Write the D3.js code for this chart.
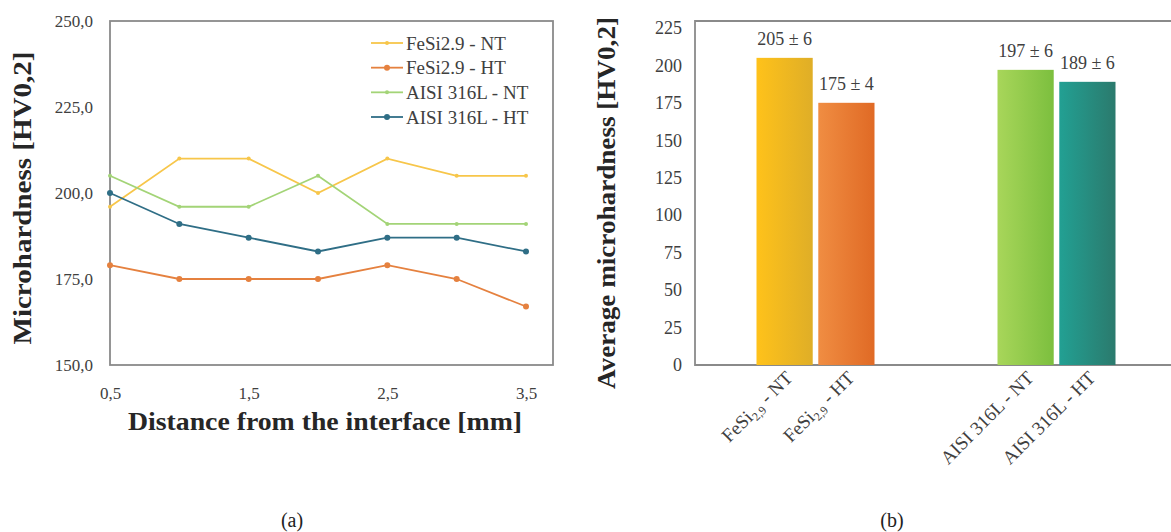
<!DOCTYPE html>
<html>
<head>
<meta charset="utf-8">
<script src="https://cdn.jsdelivr.net/npm/d3@7"></script>
<style>
  html, body { margin: 0; padding: 0; background: #fff; }
  svg text { font-family: "Liberation Serif", "Times New Roman", serif; }
</style>
</head>
<body>
<svg id="fig" width="1171" height="532"></svg>
<script>
// ---- (a) microhardness profiles ----
const distances = [0.5, 1.0, 1.5, 2.0, 2.5, 3.0, 3.5];
const fesiNT = [196, 210, 210, 200, 210, 205, 205];
const fesiHT = [179, 175, 175, 175, 179, 175, 167];
const aisiNT = [205, 196, 196, 205, 191, 191, 191];
const aisiHT = [200, 191, 187, 183, 187, 187, 183];
const seriesNames = ["FeSi2.9 - NT", "FeSi2.9 - HT", "AISI 316L - NT", "AISI 316L - HT"];
const profileTicksY = [150, 175, 200, 225, 250];
const profileTicksX = [0.5, 1.5, 2.5, 3.5];

// ---- (b) average microhardness ----
const groups = ["FeSi", "AISI"];
const barNames = ["FeSi2,9 - NT", "FeSi2,9 - HT", "AISI 316L - NT", "AISI 316L - HT"];
const barGroup = ["FeSi", "FeSi", "AISI", "AISI"];
const barKey = ["NT", "HT", "NT", "HT"];
const barValues = [205, 175, 197, 189];
const barErrors = [6, 4, 6, 6];
const avgTicks = [0, 25, 50, 75, 100, 125, 150, 175, 200, 225];

const svg = d3.select("#fig");
const lineColors = ["#f7c64a", "#e5813f", "#a3d477", "#2f6e86"];
const textColor = "#404040";
const titleColor = "#262626";
const frameColor = "#8a8a8a";
const comma = v => d3.format(".1f")(v).replace(".", ",");

// ================= panel (a) =================
const A = { left: 110, right: 553, top: 21, bottom: 365 };
const xA = d3.scaleLinear().domain([0.5, 3.5]).range([A.left, 526]);
const yA = d3.scaleLinear().domain([150, 250]).range([A.bottom, A.top]);

const gA = svg.append("g");
gA.append("rect")
  .attr("x", A.left).attr("y", A.top)
  .attr("width", A.right - A.left).attr("height", A.bottom - A.top)
  .attr("fill", "none").attr("stroke", frameColor).attr("stroke-width", 1.8);

const yAxisA = d3.axisLeft(yA).tickValues(profileTicksY).tickFormat(comma).tickSize(0).tickPadding(17);
gA.append("g").attr("transform", `translate(${A.left},0)`).call(yAxisA)
  .call(g => g.select(".domain").remove())
  .selectAll("text").attr("font-size", 17).attr("fill", textColor);

const xAxisA = d3.axisBottom(xA).tickValues(profileTicksX).tickFormat(comma).tickSize(0).tickPadding(22);
gA.append("g").attr("transform", `translate(0,${A.bottom})`).call(xAxisA)
  .call(g => g.select(".domain").remove())
  .selectAll("text").attr("font-size", 17).attr("fill", textColor);

const allSeries = [fesiNT, fesiHT, aisiNT, aisiHT];
const line = d3.line().x((d, i) => xA(distances[i])).y(d => yA(d));
allSeries.forEach((vals, k) => {
  gA.append("path").datum(vals)
    .attr("d", line).attr("fill", "none")
    .attr("stroke", lineColors[k]).attr("stroke-width", 1.8);
  gA.selectAll(null).data(vals).enter().append("circle")
    .attr("cx", (d, i) => xA(distances[i])).attr("cy", d => yA(d))
    .attr("r", k === 0 || k === 2 ? 2 : 3).attr("fill", lineColors[k]);
});

// legend
const legY = d3.scalePoint().domain(seriesNames).range([43, 117]);
const leg = gA.append("g");
seriesNames.forEach((name, k) => {
  const y = legY(name);
  leg.append("line").attr("x1", 371).attr("x2", 403).attr("y1", y).attr("y2", y)
    .attr("stroke", lineColors[k]).attr("stroke-width", 1.8);
  leg.append("circle").attr("cx", 387).attr("cy", y).attr("r", k === 0 || k === 2 ? 2 : 3)
    .attr("fill", lineColors[k]);
  leg.append("text").attr("x", 406).attr("y", y).attr("dy", "0.35em")
    .attr("font-size", 19).attr("fill", textColor).text(name);
});

gA.append("text")
  .attr("x", 325).attr("y", 430)
  .attr("text-anchor", "middle").attr("font-size", 25).attr("font-weight", "bold")
  .attr("textLength", 394).attr("lengthAdjust", "spacingAndGlyphs")
  .attr("fill", titleColor).text("Distance from the interface [mm]");
gA.append("text")
  .attr("transform", `translate(31,198) rotate(-90)`)
  .attr("text-anchor", "middle").attr("font-size", 25).attr("font-weight", "bold")
  .attr("textLength", 293).attr("lengthAdjust", "spacingAndGlyphs")
  .attr("fill", titleColor).text("Microhardness [HV0,2]");
gA.append("text").attr("x", 292).attr("y", 527).attr("text-anchor", "middle")
  .attr("font-size", 20).attr("fill", "#222").text("(a)");

// ================= panel (b) =================
const B = { left: 695, right: 1177, top: 21, bottom: 365 };
const yB = d3.scaleLinear().domain([0, 229.6]).range([B.bottom, B.top]);
const xGroup = d3.scaleBand().domain(groups).range([B.left, B.right]);
const xInner = d3.scaleBand().domain(["NT", "HT"]).range([0, 118]).paddingInner(0.09);
const barX = i => xGroup(barGroup[i]) + xGroup.bandwidth() / 2 - 59 + xInner(barKey[i]);

const gB = svg.append("g");
gB.append("path")
  .attr("d", `M${B.right},${B.top}H${B.left}V${B.bottom}H${B.right}`)
  .attr("fill", "none").attr("stroke", frameColor).attr("stroke-width", 1.8);

const yAxisB = d3.axisLeft(yB).tickValues(avgTicks).tickSize(0).tickPadding(13);
gB.append("g").attr("transform", `translate(${B.left},0)`).call(yAxisB)
  .call(g => g.select(".domain").remove())
  .selectAll("text").attr("font-size", 18).attr("fill", textColor);

// bar gradients
const defs = svg.append("defs");
const barGrad = [["#ffc21a", "#dfae27"], ["#f08d42", "#e06a25"], ["#a8d65a", "#7cbf3e"], ["#22a093", "#2b7a6d"]];
barGrad.forEach((c, i) => {
  const g = defs.append("linearGradient").attr("id", "bg" + i)
    .attr("x1", "0").attr("x2", "1").attr("y1", "0").attr("y2", "0");
  g.append("stop").attr("offset", "0").attr("stop-color", c[0]);
  g.append("stop").attr("offset", "1").attr("stop-color", c[1]);
});

gB.selectAll("rect.bar").data(barValues).enter().append("rect")
  .attr("class", "bar")
  .attr("x", (d, i) => barX(i)).attr("width", xInner.bandwidth())
  .attr("y", d => yB(d)).attr("height", d => yB(0) - yB(d))
  .attr("fill", (d, i) => `url(#bg${i})`);

gB.selectAll("text.val").data(barValues).enter().append("text")
  .attr("class", "val")
  .attr("x", (d, i) => barX(i) + xInner.bandwidth() / 2)
  .attr("y", d => yB(d) - 13)
  .attr("text-anchor", "middle").attr("font-size", 18).attr("fill", textColor)
  .text((d, i) => `${d} ± ${barErrors[i]}`);

// rotated category labels with subscripts
barNames.forEach((name, i) => {
  const cx = barX(i) + xInner.bandwidth() / 2;
  const t = gB.append("text")
    .attr("transform", `translate(${cx + 9},${B.bottom + 14}) rotate(-45)`)
    .attr("text-anchor", "end").attr("font-size", 19).attr("fill", textColor);
  const m = name.match(/^FeSi(\d,\d)(.*)$/);
  if (m) {
    t.append("tspan").text("FeSi");
    t.append("tspan").attr("font-size", 12).attr("dy", 4).text(m[1]);
    t.append("tspan").attr("dy", -4).text(m[2]);
  } else {
    t.text(name);
  }
});

gB.append("text")
  .attr("transform", `translate(615,203) rotate(-90)`)
  .attr("text-anchor", "middle").attr("font-size", 25).attr("font-weight", "bold")
  .attr("textLength", 372).attr("lengthAdjust", "spacingAndGlyphs")
  .attr("fill", titleColor).text("Average microhardness [HV0,2]");
gB.append("text").attr("x", 892).attr("y", 527).attr("text-anchor", "middle")
  .attr("font-size", 20).attr("fill", "#222").text("(b)");
</script>
</body>
</html>
